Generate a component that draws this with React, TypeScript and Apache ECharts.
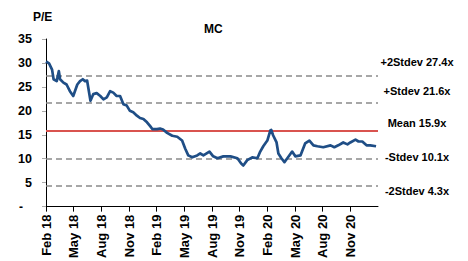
import React, { useEffect, useRef } from "react";
import * as echarts from "echarts";

const dates = [
  "2018-02-01","2018-02-11","2018-02-21","2018-02-26","2018-03-06","2018-03-13","2018-03-17","2018-03-28",
  "2018-04-08","2018-04-19","2018-04-30","2018-05-13","2018-05-22","2018-05-31","2018-06-08","2018-06-15",
  "2018-06-26","2018-07-05","2018-07-16","2018-07-28","2018-08-08","2018-08-19","2018-08-30","2018-09-10",
  "2018-09-21","2018-10-02","2018-10-13","2018-10-24","2018-11-04","2018-11-15","2018-11-27","2018-12-07",
  "2018-12-18","2018-12-30","2019-01-10","2019-01-17","2019-02-02","2019-02-12","2019-02-22","2019-03-05",
  "2019-03-22","2019-04-08","2019-04-24","2019-05-04","2019-05-14","2019-05-27","2019-06-13","2019-06-23",
  "2019-07-03","2019-07-23","2019-08-05","2019-08-19","2019-09-08","2019-10-01","2019-10-24","2019-11-06",
  "2019-11-13","2019-11-26","2019-12-12","2019-12-29","2020-01-08","2020-01-18","2020-02-01","2020-02-11",
  "2020-02-14","2020-02-20","2020-03-01","2020-03-07","2020-03-17","2020-03-27","2020-04-06","2020-04-22",
  "2020-05-02","2020-05-19","2020-06-04","2020-06-18","2020-07-01","2020-07-14","2020-08-03","2020-08-27",
  "2020-09-09","2020-09-22","2020-10-08","2020-10-22","2020-11-01","2020-11-18","2020-11-28","2020-12-10",
  "2020-12-24","2021-01-06","2021-01-25"
];
const peValues = [
  30.3,29.9,28.6,26.6,26.2,28.3,26.6,25.9,
  25.5,24.1,23.1,25.5,26.2,26.6,26.2,26.3,
  22.1,23.5,23.7,23.1,22.4,22.8,24.1,23.8,
  23.1,23.1,21.4,21.1,20.0,19.7,19.0,18.5,
  18.3,17.6,16.8,16.2,16.2,16.3,16.1,15.4,
  14.8,14.6,13.8,12.1,10.7,10.3,10.7,11.1,
  10.7,11.5,10.5,10.1,10.5,10.5,10.1,9.0,
  8.6,9.7,10.3,10.1,11.5,12.6,13.8,15.9,
  16.0,14.9,13.4,11.1,10.1,9.3,10.1,11.5,
  10.5,10.7,13.2,13.8,12.8,12.6,12.4,12.8,
  12.4,12.8,13.4,13.0,13.4,14.0,13.6,13.6,
  12.8,12.8,12.6
];
const xTickLabels = [
  "Feb 18","May 18","Aug 18","Nov 18","Feb 19","May 19","Aug 19","Nov 19",
  "Feb 20","May 20","Aug 20","Nov 20"
];
const statNames = ["+2Stdev 27.4x", "+Stdev 21.6x", "Mean 15.9x", "-Stdev 10.1x", "-2Stdev 4.3x"];
const statValues = [27.4, 21.6, 15.9, 10.1, 4.3];
const statLabelY = [62, 91, 123, 157, 191];

const FONT = "'Liberation Sans', Arial, sans-serif";

function monthOffset(d: string): number {
  const [y, m, day] = d.split("-").map(Number);
  return (y - 2018) * 12 + (m - 2) + (day - 1) / 30.4;
}

export default function App() {
  const ref = useRef<HTMLDivElement>(null);
  useEffect(() => {
    if (!ref.current) return;
    const chart = echarts.init(ref.current, undefined, { renderer: "svg" });
    const data = dates.map((d, i) => [monthOffset(d), peValues[i]]);
    const tickVals = xTickLabels.map((_, i) => i * 3);
    chart.setOption({
      animation: false,
      grid: { left: 46, right: 90, top: 39, bottom: 52 },
      xAxis: {
        type: "value",
        min: 0,
        max: 36,
        interval: 3,
        splitLine: { show: false },
        axisLine: { show: true, onZero: false, lineStyle: { color: "#000", width: 1 } },
        axisTick: { show: true, length: 5, lineStyle: { color: "#000" }, customValues: tickVals },
        axisLabel: {
          customValues: tickVals,
          rotate: 90,
          margin: 8,
          fontSize: 13,
          fontWeight: "bold",
          fontFamily: FONT,
          color: "#000",
          formatter: (v: number) => xTickLabels[Math.round(v / 3)] ?? "",
        },
      },
      yAxis: {
        type: "value",
        min: 0,
        max: 35,
        interval: 5,
        splitLine: { show: false },
        axisLine: { show: true, lineStyle: { color: "#000", width: 1 } },
        axisTick: { show: true, length: 4, lineStyle: { color: "#aaa" } },
        axisLabel: {
          margin: 14,
          fontSize: 12.5,
          fontWeight: "bold",
          fontFamily: FONT,
          color: "#000",
          formatter: (v: number) => (v === 0 ? "{d|-}" : String(v)),
          rich: { d: { fontSize: 12, fontWeight: "bold", fontFamily: FONT, color: "#000", padding: [0, 9, 0, 0] } },
        },
      },
      series: [
        {
          type: "line",
          data,
          showSymbol: false,
          symbol: "none",
          lineStyle: { color: "#1f4e86", width: 2.7, join: "round" },
          z: 5,
          markLine: {
            silent: true,
            symbol: "none",
            label: { show: false },
            data: statValues.map((v, i) => ({
              yAxis: v,
              lineStyle:
                i === 2
                  ? { color: "#d9534f", width: 2, type: "solid" }
                  : { color: "#8a8a8a", width: 1.5, type: [6, 4] },
            })),
            z: 3,
          },
        },
      ],
      graphic: [
        {
          type: "text",
          left: 33,
          top: 11,
          style: { text: "P/E", font: `bold 12px ${FONT}`, fill: "#000" },
        },
        {
          type: "text",
          left: 204,
          top: 23,
          style: { text: "MC", font: `bold 12px ${FONT}`, fill: "#000" },
        },
        ...statNames.map((t, i) => ({
          type: "text",
          x: 417,
          y: statLabelY[i],
          style: {
            text: t,
            font: `bold 11px ${FONT}`,
            fill: "#000",
            textAlign: "center",
            textVerticalAlign: "middle",
          },
        })),
      ],
    });
    return () => chart.dispose();
  }, []);
  return (
    <div
      ref={ref}
      style={{ position: "fixed", left: 0, top: 0, width: 468, height: 261, background: "#fff" }}
    />
  );
}
